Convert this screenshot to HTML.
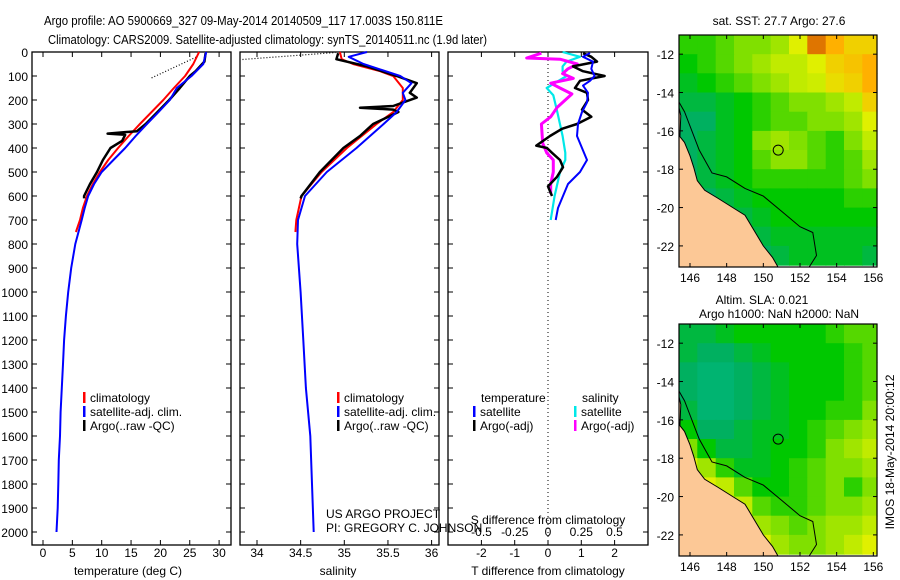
<!DOCTYPE html>
<html><head><meta charset="utf-8"><style>
html,body{margin:0;padding:0;background:#fff}
svg{display:block;font-family:"Liberation Sans",sans-serif}
</style></head><body>
<svg id="fig" width="900" height="580" xmlns="http://www.w3.org/2000/svg">
<text x="44" y="25" font-size="13" textLength="399" lengthAdjust="spacingAndGlyphs">Argo profile: AO 5900669_327 09-May-2014 20140509_117 17.003S 150.811E</text>
<text x="48" y="44" font-size="13" textLength="439" lengthAdjust="spacingAndGlyphs">Climatology: CARS2009. Satellite-adjusted climatology: synTS_20140511.nc (1.9d later)</text>
<g id="p1"></g>
<g id="p2"></g>
<g id="p3"></g>
<g id="m1"></g>
<g id="m2"></g>
<text x="779" y="25" font-size="12" text-anchor="middle">sat. SST: 27.7 Argo: 27.6</text>
<text x="762" y="304" font-size="12" text-anchor="middle">Altim. SLA: 0.021</text>
<text x="779" y="318" font-size="12" text-anchor="middle">Argo h1000: NaN h2000: NaN</text>
<text transform="translate(894,452) rotate(-90)" font-size="12" text-anchor="middle">IMOS 18-May-2014 20:00:12</text>
</svg>
<script>
// ---------- data ----------
const depthTicks=[0,100,200,300,400,500,600,700,800,900,1000,1100,1200,1300,1400,1500,1600,1700,1800,1900,2000];
const tempTicks=[0,5,10,15,20,25,30];
const salTicks=[34,34.5,35,35.5,36];
const tdiffTicks=[-2,-1,0,1,2];
const sdiffTicks=[-0.5,-0.25,0,0.25,0.5];
const sdiffLabels=["-0.5","-0.25","0","0.25","0.5"];
// temperature
const climTdepth=[0,50,100,150,200,250,300,350,400,450,500,550,600,650,700,750];
const climT=[26.6,25.6,24.2,22.3,20.5,18.5,16.5,14.6,12.8,11.1,9.7,8.5,7.5,6.8,6.3,5.6];
const satTdepth=[0,50,100,150,200,250,300,350,400,450,500,550,600,650,700,800,900,1000,1100,1200,1300,1400,1500,1600,1700,1800,1900,2000];
const satT=[27.8,27.3,25.3,22.8,21.6,19.7,17.7,15.8,14,12,10,8.7,7.7,7.1,6.6,5.5,4.8,4.3,3.9,3.6,3.4,3.2,3.0,2.9,2.7,2.6,2.5,2.3];
const argoTdepth=[5,40,80,100,150,200,250,300,330,340,345,370,400,450,500,550,600,610];
const argoT=[27.7,27.5,26,25,23.3,21.5,19.5,17.5,16,11,14,13.5,11.5,10.2,9.2,8,7.0,7.0];
// salinity
const climSdepth=[0,30,50,80,100,150,200,250,300,400,500,600,700,750];
const climS=[34.95,34.97,35.1,35.41,35.56,35.67,35.67,35.56,35.37,35.03,34.74,34.51,34.45,34.44];
const satSdepth=[0,20,50,100,130,170,200,250,300,400,500,600,700,800,1000,1200,1400,1600,1800,2000];
const satS=[35.26,35.05,35.22,35.64,35.77,35.67,35.7,35.6,35.45,35.14,34.8,34.55,34.47,34.46,34.5,34.53,34.56,34.61,34.63,34.65];
const argoSdepth=[5,30,60,100,130,170,190,225,232,240,250,300,350,400,500,600,610];
const argoS=[34.93,34.91,35.26,35.6,35.83,35.75,35.83,35.56,35.18,35.56,35.62,35.33,35.18,34.99,34.72,34.51,34.5];
// differences
const satTdDepth=[4,20,40,70,100,120,140,170,210,250,300,350,400,450,500,550,600,650,700];
const satTd=[1.26,1.05,1.35,1.3,1.4,1.26,1.05,1.2,1.17,1.02,0.9,0.87,1.02,1.17,0.96,0.6,0.45,0.3,0.23];
const argoTdDepth=[5,20,40,60,80,100,120,150,170,200,240,270,300,320,350,390,400,420,450,480,520,560,600];
const argoTd=[1.05,1.3,1.47,0.75,1.05,1.7,0.96,0.81,1.17,1.2,1.02,1.3,0.87,0.42,0.06,-0.35,-0.03,0.12,0.36,0.45,0.27,0,0.12];
const satSdDepth=[0,20,40,60,80,100,130,150,180,250,350,420,450,500,600,700];
const satSd=[0.11,0.24,0.14,0.11,0.11,0.14,0.05,-0.01,0.04,0.07,0.11,0.13,0.13,0.09,0.05,0.02];
const argoSdDepth=[5,25,30,50,70,90,110,130,150,175,230,270,300,380,420,450,500,550,590];
const argoSd=[-0.05,-0.16,0.09,0.22,0.15,0.11,0.19,0.02,0.09,0.18,0.07,0.02,-0.05,-0.04,-0.01,0.04,0.04,0.02,0.02];
// maps (1-degree cells, lat -11..-23 rows, lon 145.4.. cols)
const sstGrid=[
[.5,.5,.55,.6,.6,.65,.75,.9,.85,.8,.8],
[.45,.5,.55,.6,.65,.7,.7,.75,.8,.82,.85],
[.4,.45,.5,.55,.6,.65,.7,.72,.78,.8,.85],
[.35,.35,.4,.45,.5,.55,.6,.6,.65,.7,.8],
[.3,.3,.4,.45,.5,.55,.55,.6,.6,.65,.75],
[.3,.35,.4,.45,.6,.65,.6,.55,.5,.6,.7],
[.3,.35,.4,.45,.55,.62,.62,.55,.5,.55,.65],
[.3,.35,.4,.45,.5,.5,.5,.5,.5,.55,.6],
[.3,.3,.35,.4,.45,.45,.45,.45,.45,.5,.5],
[.3,.3,.35,.35,.4,.45,.45,.45,.45,.45,.45],
[.3,.3,.3,.3,.35,.4,.4,.4,.4,.4,.4],
[.25,.25,.25,.25,.3,.35,.4,.4,.4,.4,.35]];
const slaGrid=[
[.35,.35,.4,.45,.45,.45,.45,.45,.5,.55,.55],
[.35,.3,.3,.35,.4,.45,.45,.45,.45,.5,.55],
[.3,.25,.25,.3,.35,.4,.45,.45,.45,.5,.55],
[.3,.25,.25,.3,.35,.4,.45,.45,.45,.5,.55],
[.35,.25,.25,.3,.35,.4,.45,.45,.5,.5,.6],
[.45,.3,.3,.35,.4,.4,.45,.5,.55,.6,.65],
[.6,.45,.35,.35,.4,.45,.45,.5,.6,.65,.7],
[.75,.65,.5,.4,.4,.45,.5,.55,.6,.6,.65],
[.8,.75,.7,.55,.45,.45,.5,.55,.6,.5,.6],
[.8,.8,.8,.7,.55,.5,.5,.55,.6,.6,.65],
[.8,.8,.8,.75,.65,.6,.55,.6,.65,.65,.7],
[.85,.85,.85,.85,.75,.65,.6,.6,.65,.7,.75]];
const lonTicks=[146,148,150,152,154,156];
const latTicks=[-12,-14,-16,-18,-20,-22];
const landLon=[145.4,145.5,145.45,145.7,146.0,146.2,146.4,146.8,147.5,148.5,149,149.5,150,150.5,150.8,145.4];
const landLat=[-14.8,-15.2,-16.3,-16.6,-17.3,-17.9,-18.6,-19.1,-19.5,-20.1,-20.4,-21.2,-22,-22.6,-23.1,-23.1];
const shelfLon=[145.4,145.7,146.5,147.2,148,149,150,151,152,152.7,152.9,152.5];
const shelfLat=[-14.5,-15,-17,-18.2,-18.4,-19,-19.4,-20.2,-21,-21.3,-22.5,-23.1];
const floatLon=[150.811], floatLat=[-17.003];

// ---------- helpers ----------
const NS="http://www.w3.org/2000/svg";
function mk(p,tag,at){const e=document.createElementNS(NS,tag);for(const k in at)e.setAttribute(k,at[k]);p.appendChild(e);return e;}
const Y0=52,Y1=545;
const yD=d=>52+d*0.24;
function frame(g,x0,x1){
  const r=mk(g,'rect',{x:x0,y:Y0,width:x1-x0,height:Y1-Y0,fill:'none',stroke:'#000','stroke-width':1.3});
  
  depthTicks.forEach(d=>{const y=yD(d);
    mk(g,'line',{x1:x0,x2:x0+5,y1:y,y2:y,stroke:'#000'});mk(g,'line',{x1:x1-5,x2:x1,y1:y,y2:y,stroke:'#000'});});
}
function line(g,xs,ds,fx,color,w,name,dash){
  const pts=xs.map((v,i)=>fx(v).toFixed(1)+','+yD(ds[i]).toFixed(1)).join(' ');
  const e=mk(g,'polyline',{points:pts,fill:'none',stroke:color,'stroke-width':w,'stroke-linejoin':'round'});
  if(dash)e.setAttribute('stroke-dasharray',dash);
  
}
function txt(g,x,y,s,name,anchor,size){const t=mk(g,'text',{x:x,y:y,'font-size':size||12,'text-anchor':anchor||'start'});t.textContent=s;
  return t;}
function legend(g,x,y,color,label){mk(g,'rect',{x:x,y:y-10,width:2.5,height:11,fill:color});txt(g,x+7,y,label,'legend-entry');}

// ---------- panel 1 ----------
const p1=document.getElementById('p1');
const xT=t=>43+t*5.87;
frame(p1,32,231);
depthTicks.forEach(d=>txt(p1,28,yD(d)+5,String(d),'y-tick-label','end'));
tempTicks.forEach(t=>{const x=xT(t);mk(p1,'line',{x1:x,x2:x,y1:Y1,y2:Y1-5,stroke:'#000'});mk(p1,'line',{x1:x,x2:x,y1:Y0,y2:Y0+5,stroke:'#000'});
  txt(p1,x,557,String(t),'x-tick-label','middle');});
txt(p1,128,575,'temperature (deg C)','x-axis-title','middle');
line(p1,[18.5,26.2],[108,20],xT,'#000',1.2,'argo-raw-dotted','1 2');
line(p1,climT,climTdepth,xT,'#ff0000',2,'climatology-line');
line(p1,argoT,argoTdepth,xT,'#000',2.5,'argo-line');
line(p1,satT,satTdepth,xT,'#0000ff',2,'satellite-line');
legend(p1,83,402,'#ff0000','climatology');legend(p1,83,416,'#0000ff','satellite-adj. clim.');legend(p1,83,430,'#000','Argo(..raw -QC)');

// ---------- panel 2 ----------
const p2=document.getElementById('p2');
const xS=s=>257+(s-34)*87.3;
frame(p2,240,439);
salTicks.forEach(s=>{const x=xS(s);mk(p2,'line',{x1:x,x2:x,y1:Y1,y2:Y1-5,stroke:'#000'});mk(p2,'line',{x1:x,x2:x,y1:Y0,y2:Y0+5,stroke:'#000'});
  txt(p2,x,557,String(s),'x-tick-label','middle');});
txt(p2,338,575,'salinity','x-axis-title','middle');
line(p2,[33.8,34.9],[32,2],xS,'#000',1.2,'argo-raw-dotted','1 2');
line(p2,climS,climSdepth,xS,'#ff0000',2,'climatology-line');
line(p2,argoS,argoSdepth,xS,'#000',2.5,'argo-line');
line(p2,satS,satSdepth,xS,'#0000ff',2,'satellite-line');
legend(p2,337,402,'#ff0000','climatology');legend(p2,337,416,'#0000ff','satellite-adj. clim.');legend(p2,337,430,'#000','Argo(..raw -QC)');
txt(p2,326,518,'US ARGO PROJECT','credit-line-1');
txt(p2,326,532,'PI: GREGORY C. JOHNSON','credit-line-2');

// ---------- panel 3 ----------
const p3=document.getElementById('p3');
const xTd=t=>548+t*33.3, xSd=s=>548+s*133;
frame(p3,448,648);
mk(p3,'line',{x1:548,x2:548,y1:Y0,y2:Y1,stroke:'#000','stroke-dasharray':'1 3'});
tdiffTicks.forEach(t=>{const x=xTd(t);mk(p3,'line',{x1:x,x2:x,y1:Y1,y2:Y1-5,stroke:'#000'});mk(p3,'line',{x1:x,x2:x,y1:Y0,y2:Y0+5,stroke:'#000'});
  txt(p3,x,557,String(t),'x-tick-label','middle');});
sdiffTicks.forEach((s,i)=>txt(p3,xSd(s),536,sdiffLabels[i],'s-tick-label','middle'));
txt(p3,548,524,'S difference from climatology','s-axis-title','middle');
txt(p3,548,575,'T difference from climatology','x-axis-title','middle');
line(p3,satSd,satSdDepth,xSd,'#00e8e8',2.2,'salinity-satellite-line');
line(p3,argoSd,argoSdDepth,xSd,'#ff00ff',3,'salinity-argo-line');
line(p3,argoTd,argoTdDepth,xTd,'#000',2.5,'temperature-argo-line');
line(p3,satTd,satTdDepth,xTd,'#0000ff',2,'temperature-satellite-line');
txt(p3,481,402,'temperature','legend-header');txt(p3,582,402,'salinity','legend-header');
legend(p3,473,416,'#0000ff','satellite');legend(p3,473,430,'#000','Argo(-adj)');
legend(p3,574,416,'#00e8e8','satellite');legend(p3,574,430,'#ff00ff','Argo(-adj)');

// ---------- maps ----------
const stops=[[0,[0,200,200]],[0.3,[0,176,96]],[0.45,[0,200,0]],[0.6,[128,224,0]],[0.75,[224,240,0]],[0.85,[255,176,0]],[1,[160,0,0]]];
function cmap(v){for(let i=1;i<stops.length;i++){if(v<=stops[i][0]){const a=stops[i-1],b=stops[i],f=(v-a[0])/(b[0]-a[0]);
  return 'rgb('+a[1].map((c,j)=>Math.round(c+(b[1][j]-c)*f)).join(',')+')';}}return 'rgb(160,0,0)';}
function map(id,top,grid){
  const g=document.getElementById(id);
  const L=679,R=877,B=top+232;
  const lon0=145.4,lon1=156.2,lat0=-11,lat1=-23.1;
  const X=lo=>L+(lo-lon0)/(lon1-lon0)*(R-L), Y=la=>top+(lat0-la)/(lat0-lat1)*(B-top);
  const cg=mk(g,'g',{});
  grid.forEach((row,r)=>row.forEach((v,c)=>{
    const x=X(lon0+c),x2=X(Math.min(lon0+c+1,lon1)),y=Y(lat0-r),y2=Y(Math.max(lat0-r-1,lat1));
    const e=mk(cg,'rect',{x:x.toFixed(1),y:y.toFixed(1),width:(x2-x+0.6).toFixed(1),height:(y2-y+0.6).toFixed(1),fill:cmap(v)});
    }));
  const land=mk(g,'polygon',{points:landLon.map((lo,i)=>X(lo).toFixed(1)+','+Y(landLat[i]).toFixed(1)).join(' '),fill:'#fcc896',stroke:'#000','stroke-width':1});
  
  const sh=mk(g,'polyline',{points:shelfLon.map((lo,i)=>X(lo).toFixed(1)+','+Y(shelfLat[i]).toFixed(1)).join(' '),fill:'none',stroke:'#000','stroke-width':1});
  
  const fl=mk(g,'circle',{cx:X(floatLon[0]),cy:Y(floatLat[0]),r:5,fill:'none',stroke:'#000'});
  
  const fr=mk(g,'rect',{x:L,y:top,width:R-L,height:B-top,fill:'none',stroke:'#000','stroke-width':1.2});
  
  lonTicks.forEach(lo=>{const x=X(lo);mk(g,'line',{x1:x,x2:x,y1:B,y2:B-4,stroke:'#000'});mk(g,'line',{x1:x,x2:x,y1:top,y2:top+4,stroke:'#000'});
    txt(g,x,B+15,String(lo),'lon-tick-label','middle');});
  latTicks.forEach(la=>{const y=Y(la);mk(g,'line',{x1:L,x2:L+4,y1:y,y2:y,stroke:'#000'});mk(g,'line',{x1:R-4,x2:R,y1:y,y2:y,stroke:'#000'});
    txt(g,L-5,y+5,String(la),'lat-tick-label','end');});
}
map('m1',35,sstGrid);
map('m2',324,slaGrid);
</script>
</body></html>
